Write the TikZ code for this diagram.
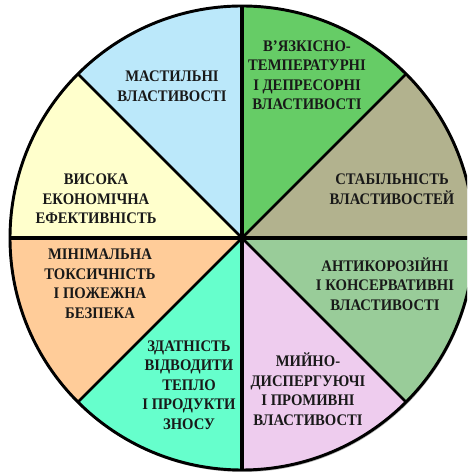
\documentclass[tikz,border=0pt]{standalone}
\usepackage{fontspec}
\setmainfont{Liberation Serif}
\usepackage{xcolor}
\usepackage{tikz}

\definecolor{lubricBlue}{HTML}{BBE8FA}
\definecolor{econYellow}{HTML}{FFFFCC}
\definecolor{toxicPeach}{HTML}{FFCC99}
\definecolor{heatAqua}{HTML}{66FFCC}
\definecolor{washPink}{HTML}{EECCEE}
\definecolor{corrGreen}{HTML}{99CC99}
\definecolor{stabKhaki}{HTML}{B2B28E}
\definecolor{viscGreen}{HTML}{66CC66}

\begin{document}
\begin{tikzpicture}[x=0.75pt,y=0.75pt]
		\tikzstyle{every node}=[font=\bfseries\fontsize{11}{13.3}\selectfont, align=center, text=black!90, yscale=1.1, transform shape]

		\useasboundingbox (0,0) rectangle (467,473);
		\clip (0,0) rectangle (467,473);
		\coordinate (o) at (242,235);

		\fill [black!30] (243,233) circle (232);
		\fill [stabKhaki] (o) -- ++(0:232) arc (0:45:232) -- cycle;
		\fill [viscGreen] (o) -- ++(45:232) arc (45:90:232) -- cycle;
		\fill [lubricBlue] (o) -- ++(90:232) arc (90:135:232) -- cycle;
		\fill [econYellow] (o) -- ++(135:232) arc (135:180:232) -- cycle;
		\fill [toxicPeach] (o) -- ++(180:232) arc (180:225:232) -- cycle;
		\fill [heatAqua] (o) -- ++(225:232) arc (225:270:232) -- cycle;
		\fill [washPink] (o) -- ++(270:232) arc (270:315:232) -- cycle;
		\fill [corrGreen] (o) -- ++(315:232) arc (315:360:232) -- cycle;

		\draw [line width=2.6pt] (o) -- ++(0:232);
		\draw [line width=2.6pt] (o) -- ++(180:232);
		\draw [line width=2.6pt] (o) -- ++(90:232);
		\draw [line width=2.6pt] (o) -- ++(270:232);
		\draw [line width=2pt] (o) -- ++(45:232);
		\draw [line width=2pt] (o) -- ++(135:232);
		\draw [line width=2pt] (o) -- ++(225:232);
		\draw [line width=2pt] (o) -- ++(315:232);
		\draw [line width=2.2pt] (o) circle (232);

		\node (lubric) at (172,387) {МАСТИЛЬНІ\\ВЛАСТИВОСТІ};
		\node (econ) at (96,274) {ВИСОКА\\ЕКОНОМІЧНА\\ЕФЕКТИВНІСТЬ};
		\node (visc) at (307,398) {В’ЯЗКІСНО-\\ТЕМПЕРАТУРНІ\\І ДЕПРЕСОРНІ\\ВЛАСТИВОСТІ};
		\node (stab) at (392,284) {СТАБІЛЬНІСТЬ\\ВЛАСТИВОСТЕЙ};
		\node (toxic) at (100,189) {МІНІМАЛЬНА\\ТОКСИЧНІСТЬ\\І ПОЖЕЖНА\\БЕЗПЕКА};
		\node (heat) at (189,88) {ЗДАТНІСТЬ\\ВІДВОДИТИ\\ТЕПЛО\\І ПРОДУКТИ\\ЗНОСУ};
		\node (corr) at (385,189) {АНТИКОРОЗІЙНІ\\І КОНСЕРВАТИВНІ\\ВЛАСТИВОСТІ};
		\node (wash) at (308,84) {МИЙНО-\\ДИСПЕРГУЮЧІ\\І ПРОМИВНІ\\ВЛАСТИВОСТІ};

	\end{tikzpicture}
\end{document}
